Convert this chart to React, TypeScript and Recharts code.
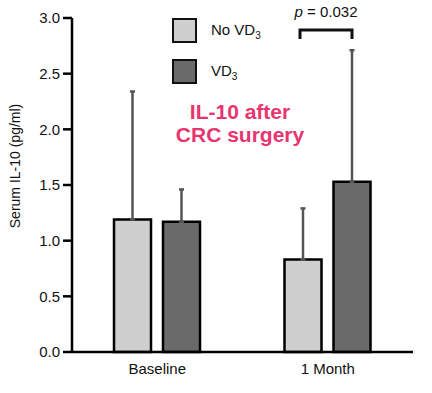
import React from 'react';
import {BarChart, Bar, XAxis, YAxis, ErrorBar} from 'recharts';

const categories = ['Baseline', '1 Month'];
const seriesNames = ['No VD', 'VD'];
const seriesColors = ['#cfcfcf', '#6a6a6a'];
const noVd3 = [1.19, 0.83];
const noVd3Err = [1.15, 0.46];
const vd3 = [1.17, 1.53];
const vd3Err = [0.29, 1.18];
const yTicks = [0, 0.5, 1, 1.5, 2, 2.5, 3];

const data = categories.map((c, i) => ({
    name: c,
    noVd3: noVd3[i],
    noVd3Err: [0, noVd3Err[i]],
    vd3: vd3[i],
    vd3Err: [0, vd3Err[i]],
}));

const font = '"Liberation Sans", Arial, sans-serif';

const LegendBox = () => (
    <div style={{position: 'absolute', left: 172, top: 10, fontFamily: font}}>
        {seriesNames.map((n, i) => (
            <div key={i} style={{display: 'flex', alignItems: 'center', height: 41}}>
                <div style={{width: 21, height: 21, background: seriesColors[i], border: '2.5px solid #111', marginRight: 14}}/>
                <span style={{fontSize: 15, color: '#111'}}>
                    {n}<sub style={{fontSize: 10}}>3</sub>
                </span>
            </div>
        ))}
    </div>
);

const YLabel = ({viewBox}: any) => {
    const cx = viewBox.x + 15;
    const cy = viewBox.y + viewBox.height / 2 - 19;
    return (
        <text x={cx} y={cy} transform={`rotate(-90, ${cx}, ${cy})`} textAnchor="middle" dominantBaseline="central"
              fill="#111" fontSize={14} fontFamily={font}>
            Serum IL-10 (pg/ml)
        </text>
    );
};

const App = () => {
    return (
        <div style={{position: 'absolute', left: 0, top: 0, width: 432, height: 393, background: '#fff'}}>
            <BarChart width={432} height={393} data={data}
                      margin={{top: 18, right: 19, bottom: 11, left: 0}}
                      barSize={37} barGap={12}>
                <XAxis dataKey="name" height={30} axisLine={{stroke: '#000', strokeWidth: 2.5}} tickLine={false}
                       tickSize={6} tickMargin={5} tick={{fill: '#111', fontSize: 15, fontFamily: font}}/>
                <YAxis domain={[0, 3]} ticks={yTicks} width={72} interval={0}
                       tickFormatter={(v: number) => v.toFixed(1)}
                       axisLine={{stroke: '#000', strokeWidth: 2.5}}
                       tickLine={{stroke: '#000', strokeWidth: 2.5}} tickSize={9} tickMargin={3}
                       tick={{fill: '#111', fontSize: 15, fontFamily: font}}
                       label={<YLabel/>}/>
                <Bar dataKey="noVd3" fill={seriesColors[0]} stroke="#000" strokeWidth={2.5} isAnimationActive={false}>
                    <ErrorBar dataKey="noVd3Err" width={2.5} stroke="#555" strokeWidth={2.5} direction="y"/>
                </Bar>
                <Bar dataKey="vd3" fill={seriesColors[1]} stroke="#000" strokeWidth={2.5} isAnimationActive={false}>
                    <ErrorBar dataKey="vd3Err" width={2.5} stroke="#555" strokeWidth={2.5} direction="y"/>
                </Bar>
            </BarChart>
            <LegendBox/>
            <div style={{position: 'absolute', left: 160, top: 100, width: 160, textAlign: 'center',
                color: '#e8356f', fontFamily: font, fontWeight: 'bold', fontSize: 21, lineHeight: '23px'}}>
                IL-10 after<br/>CRC surgery
            </div>
            <div style={{position: 'absolute', left: 276, top: 3, width: 100, textAlign: 'center',
                fontFamily: font, fontSize: 15, color: '#111'}}>
                <i>p</i> = 0.032
            </div>
            <svg style={{position: 'absolute', left: 0, top: 0}} width={432} height={60}>
                <polyline points="300,39 300,30 352,30 352,39" fill="none" stroke="#111" strokeWidth={3}/>
            </svg>
        </div>
    );
};

export default App;
